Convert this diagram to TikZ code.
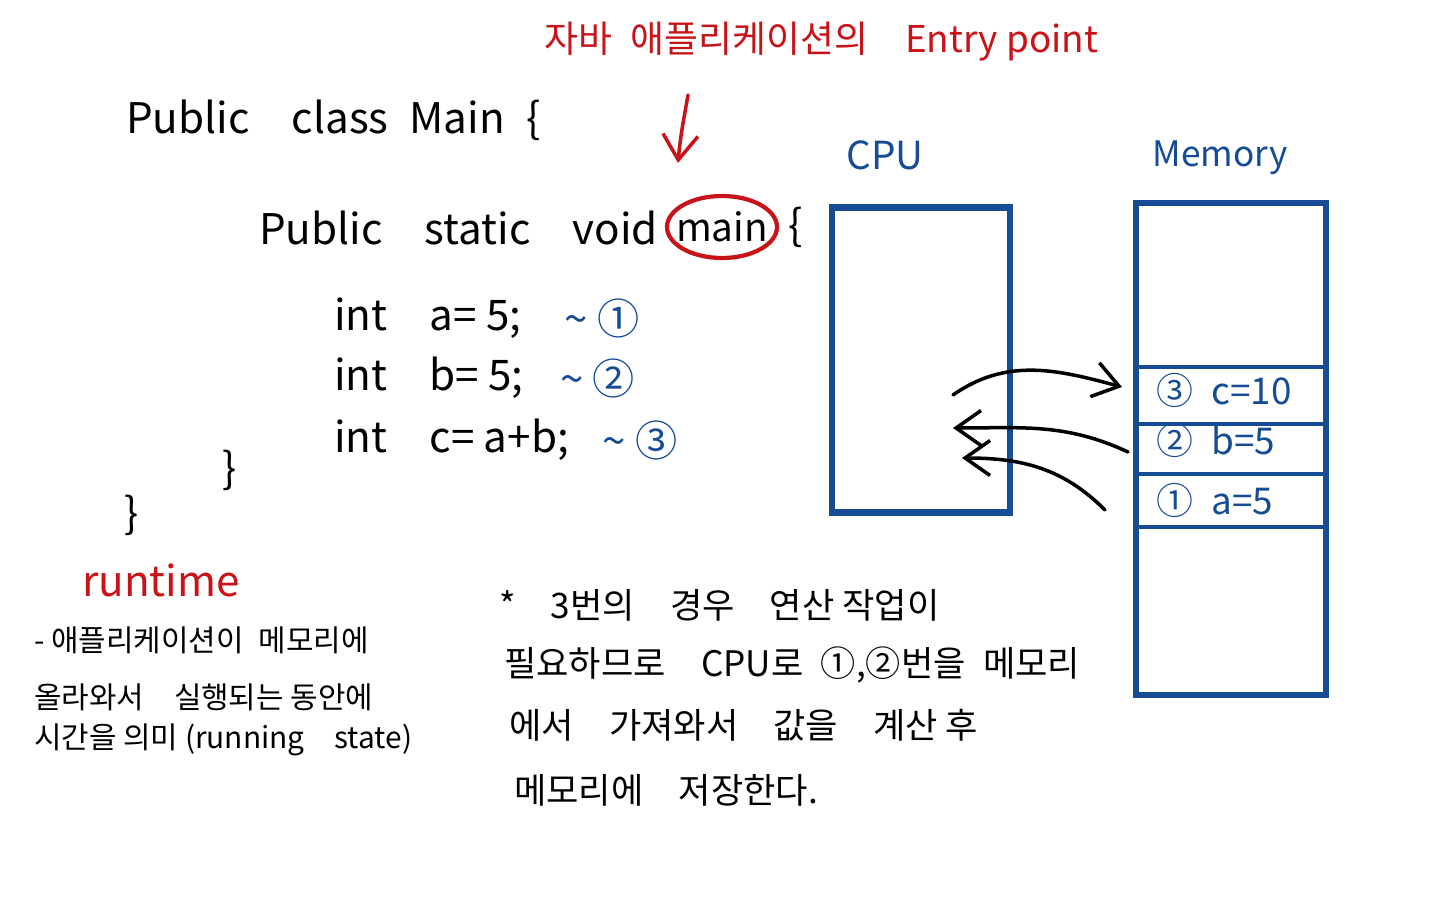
\documentclass[tikz,border=0pt]{standalone}
\usepackage{fontspec}
\setmainfont{Noto Sans CJK KR}
\usetikzlibrary{arrows.meta,positioning}
\definecolor{inkred}{RGB}{200,20,25}
\definecolor{inkblue}{RGB}{22,75,150}
\tikzset{
  code/.style={font=\fontsize{12}{15}\selectfont, anchor=west, inner sep=1pt},
  note/.style={font=\fontsize{10}{12}\selectfont, anchor=west, inner sep=1pt},
  small/.style={font=\fontsize{8.5}{10}\selectfont, anchor=west, inner sep=1pt},
  tag/.style={text=inkblue, font=\fontsize{12}{15}\selectfont, inner sep=1pt},
  cell/.style={text=inkblue, font=\fontsize{10.5}{13}\selectfont, anchor=west, inner sep=1pt},
  hwbox/.style={draw=inkblue, line width=1.8pt, inner sep=0pt},
  ink/.style={-{Straight Barb[length=2.5mm,width=3.5mm]}, line width=1pt, line cap=round},
}
\begin{document}
\begin{tikzpicture}
  \useasboundingbox (0,0) rectangle (14.4,9);
  \node[note, text=inkred, font=\fontsize{10.5}{13}\selectfont] (title) at (5.4,8.58) {자바\enspace 애플리케이션의\quad Entry point};

  % source code
  \node[code] (cls) at (1.22,7.8) {Public\quad class\enspace Main\enspace\{};
  \node[code] (sig) at (2.55,6.72) {Public\quad static\quad void};
  \node[code, anchor=center, font=\fontsize{11}{14}\selectfont] (main) at (7.22,6.73) {main};
  \draw[inkred, line width=1.2pt] (main.center) ellipse (0.55 and 0.31);
  \node[code, right=0.12 of main] (brace) {\{};
  \node[code] (la) at (3.3,5.82) {int\quad a= 5;};
  \node[tag, right=0.35 of la] (ta) {\textasciitilde\ ①};
  \node[code] (lb) at (3.3,5.22) {int\quad b= 5;};
  \node[tag, right=0.28 of lb] (tb) {\textasciitilde\ ②};
  \node[code] (lc) at (3.3,4.6) {int\quad c= a+b;};
  \node[tag, right=0.25 of lc] (tc) {\textasciitilde\ ③};
  \node[code] (endm) at (2.18,4.3) {\}};
  \node[code] (endc) at (1.2,3.85) {\}};

  \coordinate (entry) at (6.88,8.05);
  \draw[ink, inkred] (entry) to[out=-100,in=85] ([xshift=-0.44cm,yshift=0.02cm]main.north |- 0,7.35);

  % runtime
  \node[code, text=inkred] (rt) at (0.78,3.2) {runtime};
  \node[small] (rt1) at (0.3,2.6) {- 애플리케이션이\enspace 메모리에};
  \node[small] (rt2) at (0.3,2.03) {올라와서\quad 실행되는 동안에};
  \node[small] (rt3) at (0.3,1.6) {시간을 의미 (running\quad state)};

  % note on line 3
  \node[note] (n1) at (4.95,2.95) {*\quad 3번의\quad 경우\quad 연산 작업이};
  \node[note] (n2) at (5.0,2.35) {필요하므로\quad CPU로\enspace ①,②번을\enspace 메모리};
  \node[note] (n3) at (5.05,1.75) {에서\quad 가져와서\quad 값을\quad 계산 후};
  \node[note] (n4) at (5.1,1.1) {메모리에\quad 저장한다.};

  % cpu and memory
  \node[text=inkblue, font=\fontsize{11}{13}\selectfont] (cpulbl) at (8.85,7.45) {CPU};
  \node[hwbox, minimum width=1.78cm, minimum height=3.05cm] (cpu) at (9.21,5.4) {};
  \node[text=inkblue, font=\fontsize{10}{12}\selectfont] (memlbl) at (12.2,7.42) {Memory};
  \node[hwbox, minimum width=1.9cm, minimum height=4.92cm] (mem) at (12.31,4.51) {};
  \foreach \y in {5.33,4.76,4.26,3.73}
    \draw[inkblue, line width=0.9pt] (mem.west |- 0,\y) -- (mem.east |- 0,\y);
  \node[cell] (rowc) at (11.52,5.1) {③\enspace c=10};
  \node[cell] (rowb) at (11.52,4.6) {②\enspace b=5};
  \node[cell] (rowa) at (11.52,4.0) {①\enspace a=5};

  \coordinate (cpuout) at (9.53,5.05);
  \coordinate (cpuinb) at (9.53,4.72);
  \coordinate (cpuina) at (9.62,4.42);
  \draw[ink] (cpuout) to[out=35,in=165] ([xshift=-3mm,yshift=0.3mm]rowc.west);
  \draw[ink] ([xshift=-2.4mm,yshift=-1.2mm]rowb.west) to[out=155,in=0] (cpuinb);
  \draw[ink] ([xshift=-4.7mm,yshift=-1mm]rowa.west) to[out=135,in=0] (cpuina);
\end{tikzpicture}
\end{document}
